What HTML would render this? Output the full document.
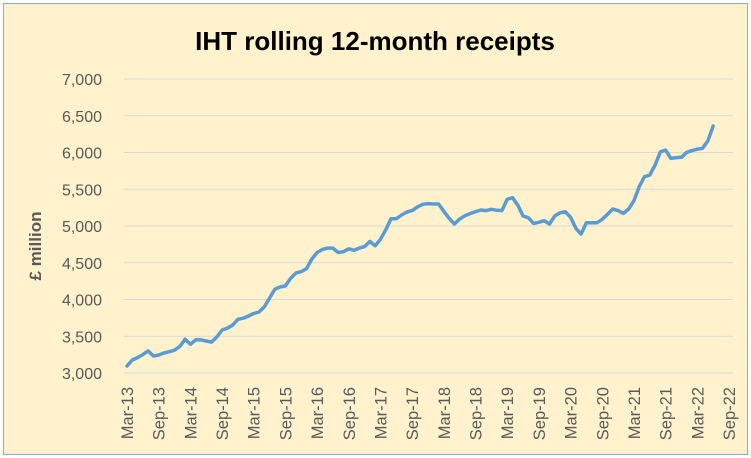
<!DOCTYPE html>
<html><head><meta charset="utf-8"><style>
body{margin:0;background:#fff;}
#c{position:absolute;left:0;top:0;width:751px;height:458px;}
text{font-family:"Liberation Sans",sans-serif;}
</style></head><body>
<svg id="c" width="751" height="458">
<rect x="3.5" y="3.5" width="744" height="451" fill="#FFF2CC" stroke="#8EA9DB" stroke-width="1"/>
<text x="375" y="50" text-anchor="middle" font-size="26" font-weight="bold" fill="#000">IHT rolling 12-month receipts</text>
<text transform="translate(41,246) rotate(-90)" text-anchor="middle" font-size="17" font-weight="bold" fill="#595959">£ million</text>
<g id="grid"></g>
<g id="yt"></g>
<g id="xt"></g>
<path id="line" fill="none" stroke="#5B9BD5" stroke-width="3.5" stroke-linejoin="round" stroke-linecap="round"/>
</svg>
<script>
const yTicks=[3000,3500,4000,4500,5000,5500,6000,6500,7000];
const yTickLabels=["3,000","3,500","4,000","4,500","5,000","5,500","6,000","6,500","7,000"];
const xTickLabels=["Mar-13","Sep-13","Mar-14","Sep-14","Mar-15","Sep-15","Mar-16","Sep-16","Mar-17","Sep-17","Mar-18","Sep-18","Mar-19","Sep-19","Mar-20","Sep-20","Mar-21","Sep-21","Mar-22","Sep-22"];
const receipts=[3095,3177,3210,3250,3300,3231,3245,3272,3290,3310,3360,3460,3390,3450,3450,3435,3420,3490,3585,3610,3650,3730,3745,3775,3810,3830,3900,4020,4140,4170,4185,4290,4360,4380,4420,4550,4640,4680,4700,4700,4640,4650,4690,4670,4700,4720,4790,4730,4820,4950,5100,5100,5150,5190,5210,5260,5295,5305,5300,5300,5200,5105,5027,5095,5140,5170,5195,5218,5210,5227,5215,5210,5363,5385,5285,5136,5113,5036,5050,5072,5027,5136,5180,5195,5118,4968,4891,5045,5045,5045,5091,5160,5231,5210,5172,5231,5344,5535,5671,5694,5830,6010,6033,5920,5930,5935,6003,6026,6045,6057,6160,6360];
const NS="http://www.w3.org/2000/svg";
const x0=127,pxPerMonth=602/114;
const y=v=>373-(v-3000)*0.0735;
const x=i=>x0+i*pxPerMonth;
const grid=document.getElementById('grid'),yt=document.getElementById('yt'),xt=document.getElementById('xt');
yTicks.forEach((v,i)=>{
 const l=document.createElementNS(NS,'line');
 l.setAttribute('x1',124);l.setAttribute('x2',733);l.setAttribute('y1',y(v));l.setAttribute('y2',y(v));
 l.setAttribute('stroke','#D9D9D9');l.setAttribute('stroke-width','1');
 
 
 grid.appendChild(l);
 const t=document.createElementNS(NS,'text');
 t.setAttribute('x',102);t.setAttribute('y',y(v)+6);t.setAttribute('text-anchor','end');
 t.setAttribute('font-size','16');t.setAttribute('fill','#595959');
 t.textContent=yTickLabels[i];
 
 
 yt.appendChild(t);
});
xTickLabels.forEach((s,i)=>{
 const t=document.createElementNS(NS,'text');
 const xx=x(i*6)+6;
 t.setAttribute('transform','translate('+xx+',387) rotate(-90)');
 t.setAttribute('text-anchor','end');t.setAttribute('font-size','16.5');t.setAttribute('fill','#595959');
 t.textContent=s;
 
 
 xt.appendChild(t);
});
document.getElementById('line').setAttribute('d',receipts.map((v,i)=>(i?'L':'M')+x(i).toFixed(1)+','+y(v).toFixed(1)).join(''));
</script>
</body></html>
